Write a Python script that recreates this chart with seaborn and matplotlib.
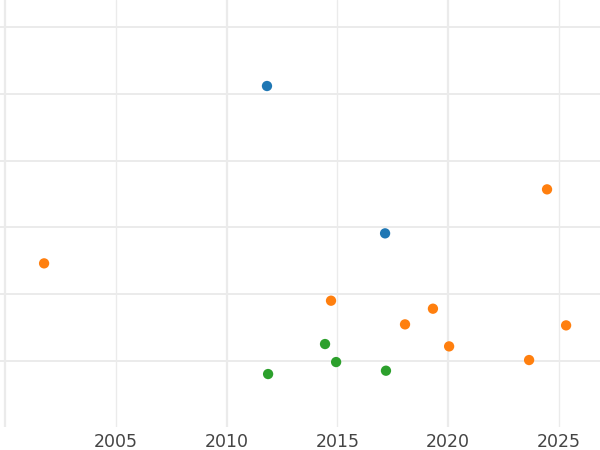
import numpy as np
import pandas as pd
import seaborn as sns
import matplotlib.pyplot as plt

# values
years = [2011.82, 2017.15,
         2001.76, 2014.71, 2018.05, 2019.31, 2020.04, 2023.65, 2024.46, 2025.32,
         2014.44, 2014.94, 2011.87, 2017.19]
values = [51.2, 29.1,
          24.6, 19.0, 15.45, 17.8, 12.15, 10.1, 35.7, 15.3,
          12.5, 9.8, 8.0, 8.5]
groups = ['A', 'A',
          'B', 'B', 'B', 'B', 'B', 'B', 'B', 'B',
          'C', 'C', 'C', 'C']
palette = ['#1f77b4', '#ff7f0e', '#2ca02c']
year_ticks = [2005, 2010, 2015, 2020, 2025]

df = pd.DataFrame({'year': years, 'value': values, 'group': groups})

sns.set_theme(style='white')
plt.rcParams['font.family'] = ['DejaVu Sans']

fig = plt.figure(figsize=(6, 4.5), dpi=100)
ax = fig.add_axes([0, 0.051, 1, 0.949])

# grid: every 10 years a bit heavier than the 5-year ones
for yr in [2000, 2010, 2020]:
    ax.axvline(yr, color='#ebebeb', lw=1.6, zorder=0)
for yr in [2005, 2015, 2025]:
    ax.axvline(yr, color='#ebebeb', lw=1.0, zorder=0)
for v in [10, 20, 30, 40, 50, 60]:
    ax.axhline(v, color='#ebebeb', lw=1.4, zorder=0)

sns.scatterplot(data=df, x='year', y='value', hue='group', palette=palette,
                s=55, edgecolor='none', legend=False, ax=ax, zorder=3)

ax.set_xlim(1999.77, 2026.85)
ax.set_ylim(0.05, 64.1)
ax.set_xticks(year_ticks)
ax.set_xticklabels([str(t) for t in year_ticks])
ax.set_yticks([])
ax.tick_params(axis='x', length=0, pad=4, labelsize=12.5, labelcolor='#444444')
ax.set_xlabel('')
ax.set_ylabel('')
for s in ax.spines.values():
    s.set_visible(False)

fig.savefig('out.png', dpi=100)
